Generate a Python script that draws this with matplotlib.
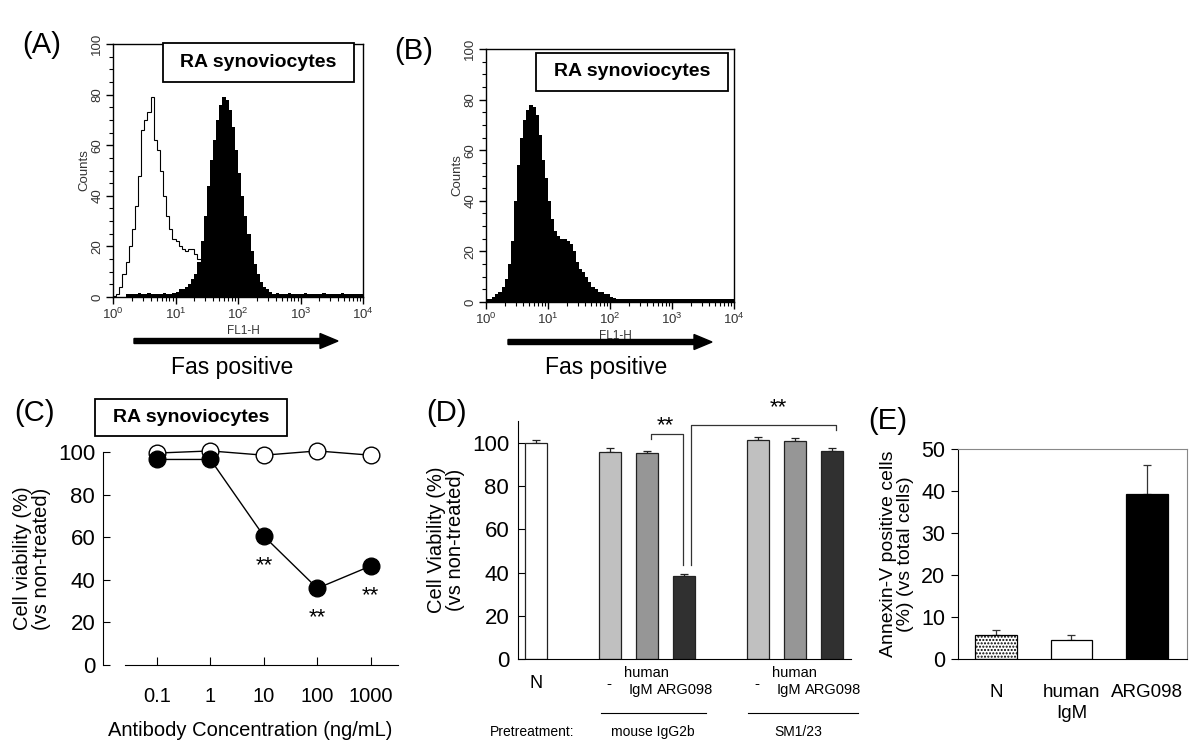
import numpy as np
import matplotlib
matplotlib.use("Agg")
import matplotlib.pyplot as plt

plt.rcParams['font.family'] = ['Liberation Sans', 'DejaVu Sans']
plt.rcParams['mathtext.fontset'] = 'custom'
plt.rcParams['mathtext.rm'] = 'Liberation Sans'

W, H = 1200, 754

# ---- (A)/(B) flow cytometry histograms, counts per log10 bin (0.05 decade) ----
bin_w = 0.05
a_open = [0.5, 1, 4, 9, 14, 20, 27, 36, 48, 66, 70, 73, 79, 62, 58, 50, 40, 32, 27, 23,
          22, 20, 19, 18, 19, 19, 17, 15, 13, 11, 9, 8, 7, 6, 5, 4, 3, 3, 2, 2,
          2, 1, 1, 1, 1, 1, 1, 0.5, 0.5, 0.5, 0.5, 0.5, 0.5, 0.5, 0.5, 0.5, 0.5, 0.5, 0.5, 0.5,
          0.5, 0.5, 0.5, 0.5, 0.5, 0.5, 0.5, 0.5, 0.5, 0.5, 0.5, 0.5, 0.5, 0.5, 0.5, 0.5, 0.5, 0.5, 0.5, 0.5]
a_fas = [0, 0, 0, 0, 1, 1, 1, 1, 1.5, 1, 1, 1.5, 1, 1, 1, 1, 1.5, 1, 1, 1.5,
         2, 3, 3, 4, 5, 7, 9, 14, 22, 32, 44, 54, 62, 70, 76, 79, 78, 74, 67, 58,
         49, 40, 32, 25, 18, 13, 9, 6, 4, 3, 2, 1, 1.5, 1, 1, 1, 1.5, 1, 1, 1,
         1, 1.5, 1, 1, 1, 1, 1, 1.5, 1, 1, 1, 1, 1, 1.5, 1, 1, 1, 1, 1, 1]
b_fas = [1, 1, 2, 3, 4, 6, 9, 15, 24, 40, 54, 65, 72, 76, 78, 77, 74, 66, 56, 49,
         40, 33, 28, 26, 25, 25, 24, 23, 20, 16, 13, 12, 10, 8, 6, 5, 4, 4, 3, 3,
         2, 1.5, 1, 1, 1, 1, 1, 1, 1, 1, 1, 1, 1, 1, 1, 1, 1, 1, 1, 1,
         1, 1, 1, 1, 1, 1, 1, 1, 1, 1, 1, 1, 1, 1, 1, 1, 1, 1, 1, 1]

# ---- (C) cell viability vs antibody concentration ----
conc_labels = ['0.1', '1', '10', '100', '1000']
ctrl_vals = [99.5, 100.5, 98.5, 100.5, 98.5]
arg_vals = [96.5, 96.5, 60.5, 36, 46.5]
arg_err = [1.5, 1.0, 1.0, 1.0, 1.0]
sig_c = [2, 3, 4]

# ---- (D) pretreatment ----
d_pos = [0, 2, 3, 4, 6, 7, 8]
d_vals = [100, 96, 95.3, 38.3, 101.3, 100.8, 96.5]
d_err = [1.2, 1.8, 1.2, 1.2, 1.5, 1.5, 1.2]
d_colors = ['white', '#c0c0c0', '#969696', '#303030', '#c0c0c0', '#969696', '#303030']

# ---- (E) annexin-V ----
e_labels = ['N', 'human\nIgM', 'ARG098']
e_vals = [5.7, 4.5, 39.3]
e_err = [1.2, 1.1, 6.8]


def ax_px(x0, y0, x1, y1):
    return fig.add_axes([x0 / W, 1 - y1 / H, (x1 - x0) / W, (y1 - y0) / H])


def ftext(x, y, s, **kw):
    fig.text(x / W, 1 - y / H, s, **kw)


def farrow(x0, x1, y):
    fig.add_artist(matplotlib.patches.FancyArrow(
        x0 / W, 1 - y / H, (x1 - x0) / W, 0, width=5 / H, head_width=15 / H,
        head_length=18 / W, length_includes_head=True, color='black',
        transform=fig.transFigure))


def ra_box(x0, y0, x1, y1):
    fig.add_artist(matplotlib.patches.Rectangle(
        (x0 / W, 1 - y1 / H), (x1 - x0) / W, (y1 - y0) / H, fc='white', ec='black',
        lw=1.3, transform=fig.transFigure, zorder=5))
    fig.text((x0 + x1) / 2 / W, 1 - (y0 + y1) / 2 / H, 'RA synoviocytes', fontsize=14,
             fontweight='bold', ha='center', va='center', zorder=6)


fig = plt.figure(figsize=(12, 7.54), dpi=100)

edges = np.arange(0, 4 + bin_w / 2, bin_w)


def flow_axes(ax):
    ax.set_xlim(0, 4)
    ax.set_ylim(0, 100)
    ax.set_xticks([0, 1, 2, 3, 4])
    ax.set_xticklabels([r'$10^{%d}$' % i for i in range(5)], fontsize=9.5, color='#333333')
    minors = [np.log10(m) + d for d in range(4) for m in range(2, 10)]
    ax.set_xticks(minors, minor=True)
    ax.set_yticks([0, 20, 40, 60, 80, 100])
    ax.set_yticks(np.arange(0, 101, 5), minor=True)
    ax.set_yticklabels(['0', '20', '40', '60', '80', '100'], rotation=90, va='center',
                       fontsize=9.5, color='#333333')
    ax.tick_params(which='major', length=5, width=1, pad=2)
    ax.tick_params(which='minor', length=3, width=0.8)
    for s in ax.spines.values():
        s.set_linewidth(1.0)
    ax.set_ylabel('Counts', fontsize=9.5, labelpad=1, color='#333333')


# (A)
axA = ax_px(113, 44, 363, 297)
axA.stairs(a_fas, edges, fill=True, color='black', baseline=0)
axA.stairs(a_open, edges, color='black', linewidth=0.8)
flow_axes(axA)
axA.text(2.08, -0.145, 'FL1-H', transform=axA.get_xaxis_transform(), ha='center',
         fontsize=8.5, color='#333333')

# (B)
axB = ax_px(486, 49, 734, 302)
axB.stairs(b_fas, edges, fill=True, color='black', baseline=0)
flow_axes(axB)
axB.text(2.08, -0.145, 'FL1-H', transform=axB.get_xaxis_transform(), ha='center',
         fontsize=8.5, color='#333333')

ra_box(163, 43, 354, 82)
ra_box(536, 53, 728, 91)
farrow(134, 338, 341)
farrow(508, 712, 342)
ftext(232, 368, 'Fas positive', fontsize=16.5, ha='center', va='center')
ftext(606, 368, 'Fas positive', fontsize=16.5, ha='center', va='center')
ftext(42, 45, '(A)', fontsize=21, ha='center', va='center')
ftext(414, 51, '(B)', fontsize=21, ha='center', va='center')

# (C)
axC = ax_px(103.5, 452, 397.5, 665)
xc = np.arange(len(conc_labels))
axC.errorbar(xc, arg_vals, yerr=arg_err, fmt='o', color='black', ms=12, lw=1,
             capsize=0, clip_on=False, zorder=3)
axC.plot(xc, arg_vals, color='black', lw=1, zorder=2)
axC.plot(xc, ctrl_vals, 'o-', color='black', mfc='white', mec='black', ms=12, lw=1,
         clip_on=False, zorder=2)
for i in sig_c:
    axC.text(xc[i], arg_vals[i] - 14, '**', ha='center', va='center', fontsize=16)
axC.set_xlim(-1.0, 4.5)
axC.set_ylim(0, 100)
axC.spines['top'].set_visible(False)
axC.spines['right'].set_visible(False)
axC.spines['bottom'].set_bounds(-0.6, 4.5)
axC.set_xticks(xc)
axC.set_xticklabels(conc_labels, fontsize=14.5)
axC.set_yticks(np.arange(0, 101, 20))
axC.tick_params(axis='x', direction='in', length=6, pad=16)
axC.tick_params(axis='y', direction='in', length=5, pad=6, labelsize=16)
axC.set_xlabel('Antibody Concentration (ng/mL)', fontsize=14.5, labelpad=11)
axC.set_ylabel('Cell viability (%)\n(vs non-treated)', fontsize=14.5, labelpad=5,
               linespacing=1.0)
ftext(34, 413, '(C)', fontsize=21, ha='center', va='center')
ra_box(95, 399, 287, 436)

# (D)
axD = ax_px(517.5, 421.4, 850.5, 659)
axD.bar(d_pos, d_vals, width=0.57, color=d_colors, edgecolor='#222222', lw=0.9, zorder=2)
axD.errorbar(d_pos, d_vals, yerr=[np.zeros(len(d_err)), d_err], fmt='none',
             ecolor='#222222', elinewidth=0.9, capsize=3, capthick=0.9, zorder=1)
axD.plot([3.1, 3.1, 3.96, 3.96], [101.8, 104, 104, 43.5], color='#333333', lw=0.9)
axD.text(3.5, 108, '**', ha='center', va='center', fontsize=16)
axD.plot([4.19, 4.19, 8.1, 8.1], [43.5, 108.3, 108.3, 106], color='#333333', lw=0.9,
         clip_on=False)
axD.text(6.55, 116.5, '**', ha='center', va='center', fontsize=16)
axD.set_xlim(-0.5, 8.5)
axD.set_ylim(0, 110)
axD.spines['top'].set_visible(False)
axD.spines['right'].set_visible(False)
axD.set_xticks([])
axD.set_yticks(np.arange(0, 101, 20))
axD.tick_params(axis='y', direction='in', length=5, pad=6, labelsize=16)
axD.set_ylabel('Cell Viability (%)\n(vs non-treated)', fontsize=14.5, labelpad=5,
               linespacing=1.0)
ftext(446, 413, '(D)', fontsize=21, ha='center', va='center')

# category labels under D
ftext(536, 684, 'N', fontsize=13, ha='center', va='center')
for g, xg in enumerate([610, 758]):
    ftext(xg - 1, 684, '-', fontsize=11, ha='center', va='center')
    ftext(xg + 36, 673, 'human', fontsize=10.5, ha='center', va='center')
    ftext(xg + 31, 690, 'IgM', fontsize=10.5, ha='center', va='center')
    ftext(xg + 75, 690, 'ARG098', fontsize=10.5, ha='center', va='center')
fig.add_artist(plt.Line2D([601 / W, 706 / W], [1 - 713 / H] * 2, color='black', lw=0.8))
fig.add_artist(plt.Line2D([748 / W, 858 / W], [1 - 713 / H] * 2, color='black', lw=0.8))
ftext(532, 732, 'Pretreatment:', fontsize=10, ha='center', va='center')
ftext(653, 732, 'mouse IgG2b', fontsize=10, ha='center', va='center')
ftext(798, 732, 'SM1/23', fontsize=10, ha='center', va='center')

# (E)
axE = ax_px(958, 449, 1187, 659)
xe = np.arange(len(e_labels))
bars = axE.bar(xe, e_vals, width=0.55, color=['white', 'white', 'black'],
               edgecolor='black', lw=0.9, zorder=2)
bars[0].set_hatch('.....')
axE.errorbar(xe, e_vals, yerr=[np.zeros(3), e_err], fmt='none', ecolor='#333333',
             elinewidth=0.9, capsize=3, capthick=0.9, zorder=1)
axE.set_xlim(-0.5, 2.53)
axE.set_ylim(0, 50)
axE.set_xticks(xe)
axE.set_xticklabels(e_labels, fontsize=13.5, linespacing=1.3)
axE.tick_params(axis='x', length=0, pad=18)
axE.set_yticks(np.arange(0, 51, 10))
axE.tick_params(axis='y', direction='out', length=5, pad=4, labelsize=15.5)
axE.spines['top'].set_color('#888888')
axE.spines['right'].set_color('#888888')
axE.set_ylabel('Annexin-V positive cells\n(%) (vs total cells)', fontsize=14, labelpad=5,
               linespacing=1.0)
ftext(888, 421, '(E)', fontsize=21, ha='center', va='center')

fig.savefig('out.png', dpi=100)
